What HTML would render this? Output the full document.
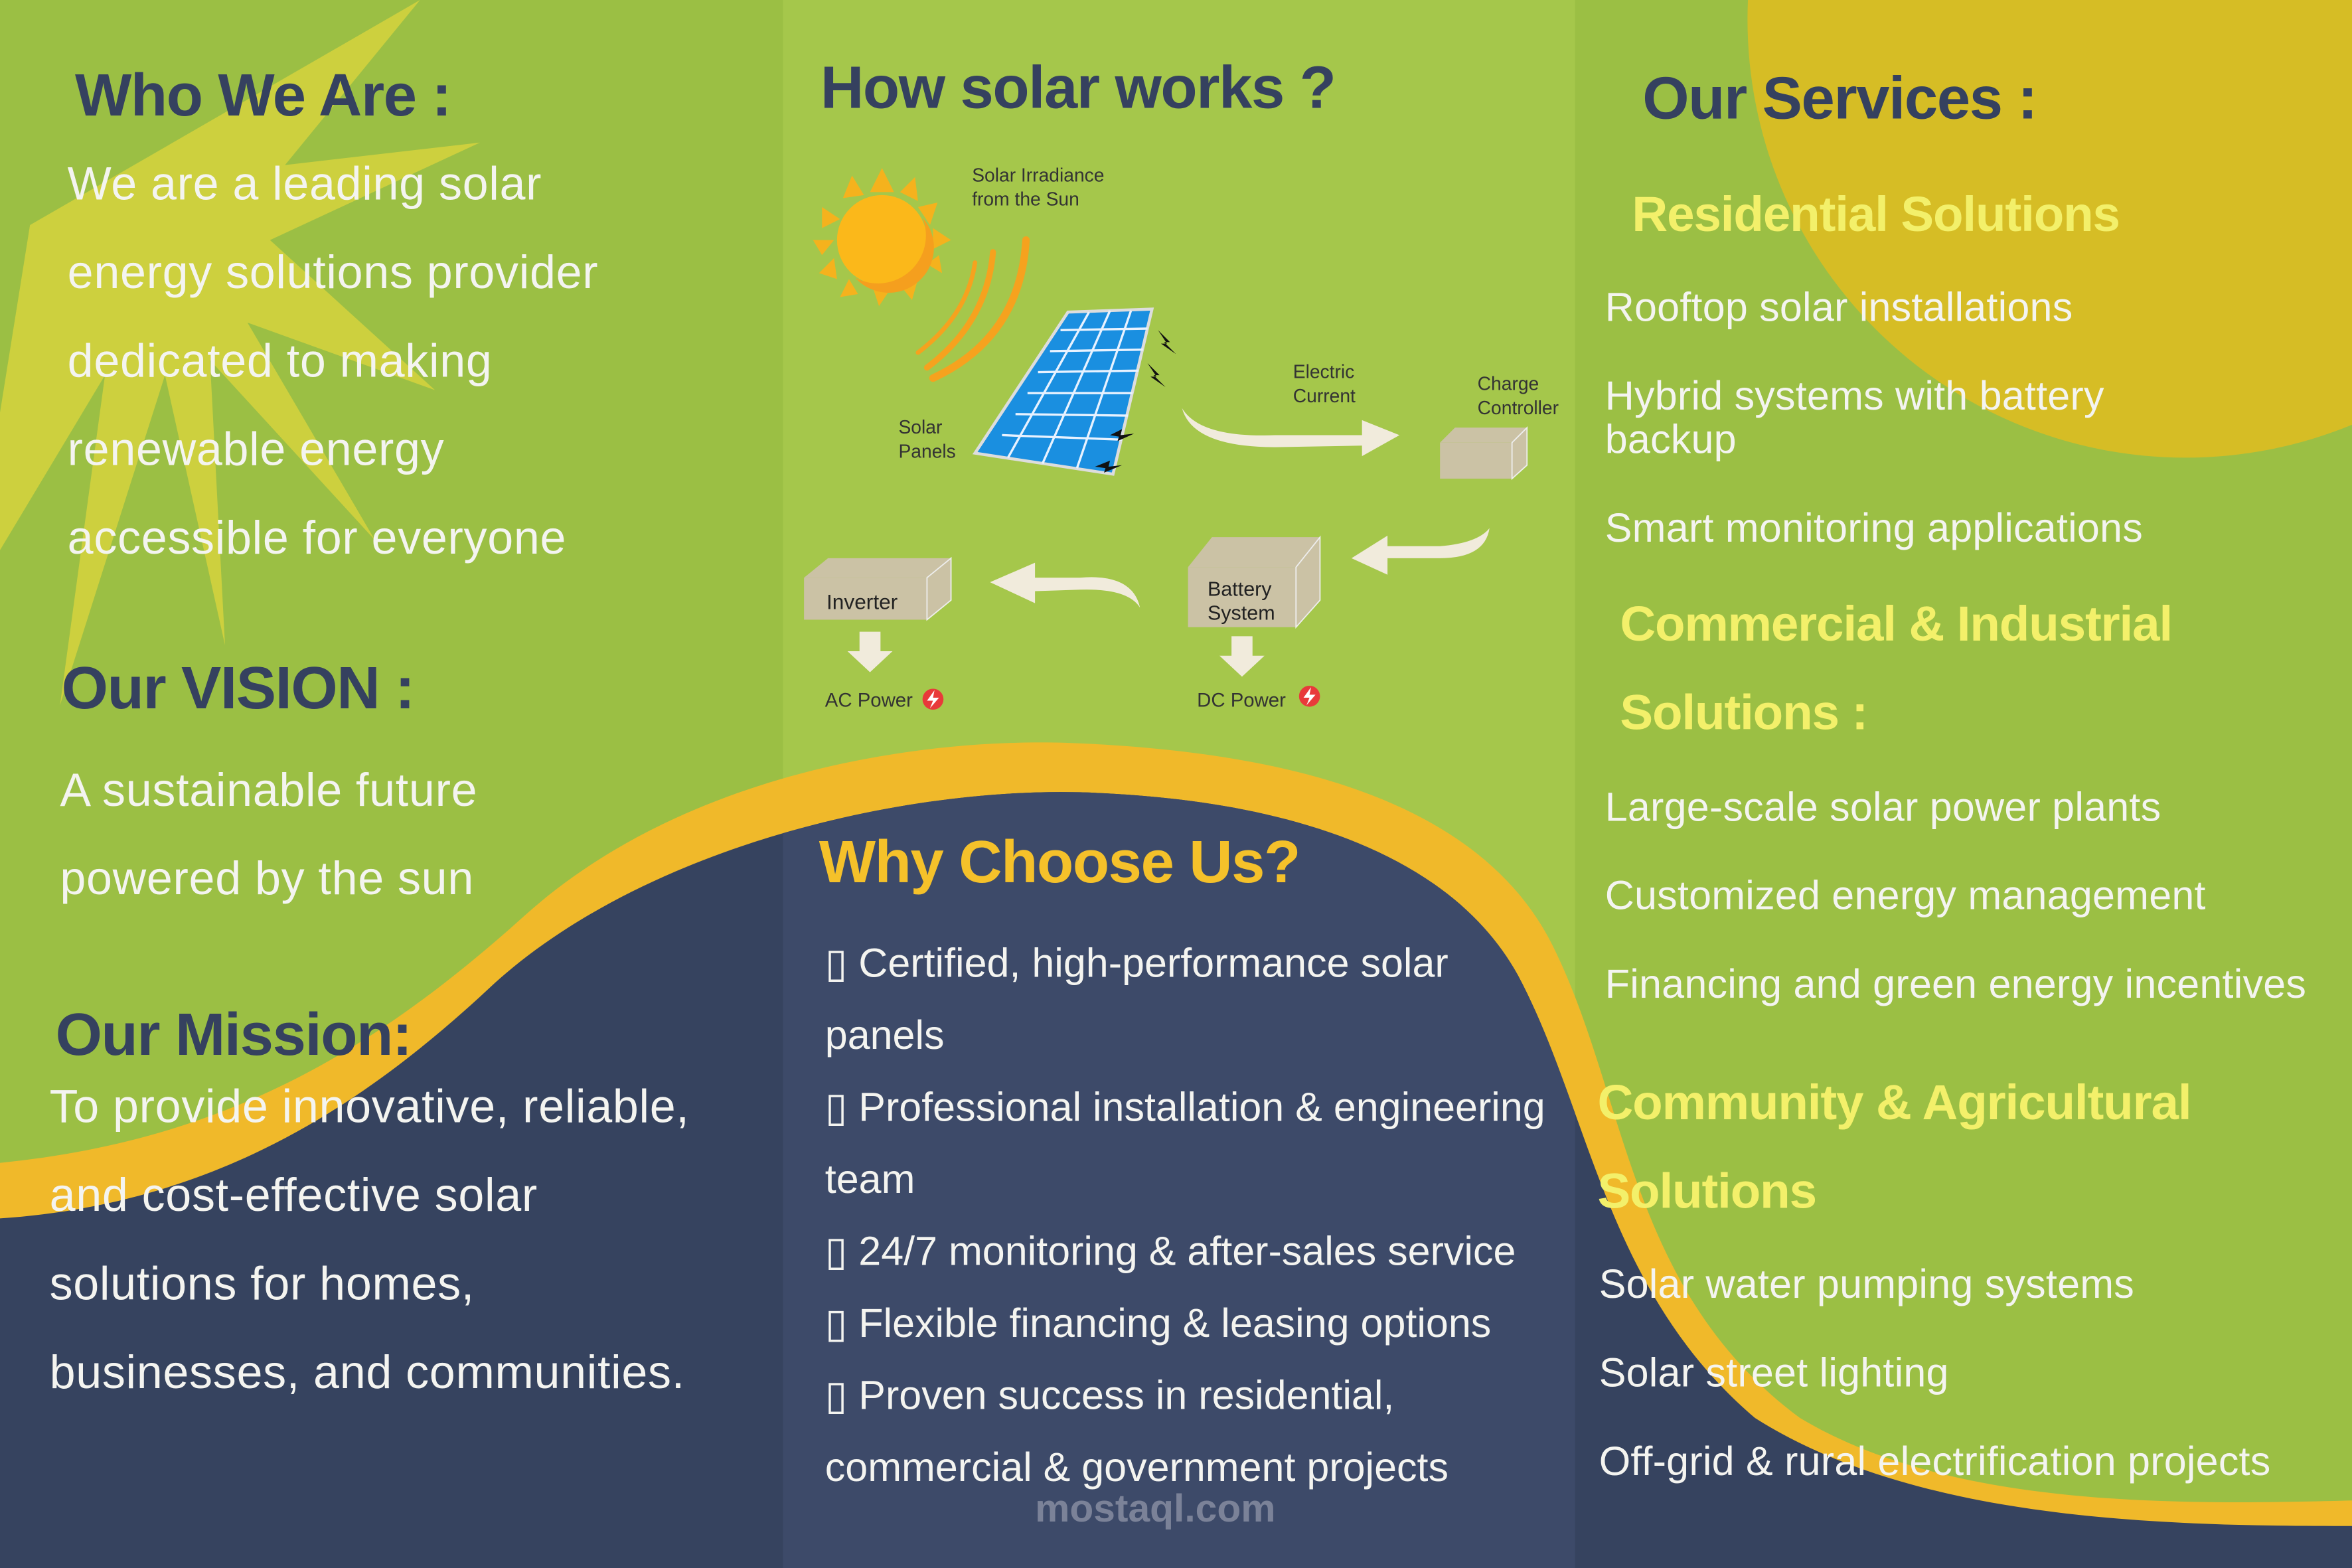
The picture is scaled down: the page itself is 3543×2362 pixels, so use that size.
<!DOCTYPE html>
<html><head><meta charset="utf-8"><style>
html,body{margin:0;padding:0;overflow:hidden;background:#9bbf44}
#w{position:absolute;left:0;top:0;width:1568px;height:1045px;transform-origin:0 0;transform:scale(2.25957,2.26029);overflow:hidden;font-family:"Liberation Sans",sans-serif}
.t{position:absolute;white-space:nowrap}
.h{color:#35415f;font-weight:bold;font-size:40px;letter-spacing:-0.6px}
.b{color:#f4f4f0;font-size:31px;letter-spacing:0.3px}
.y{color:#f3f06a;font-weight:bold;font-size:33px;letter-spacing:-0.5px}
.r{color:#f4f4f0;font-size:27px;letter-spacing:0.1px}
.m{color:#f4f4f0;font-size:27px;letter-spacing:0px}
</style></head><body><div id="w">
<svg width="1568" height="1045" style="position:absolute;left:0;top:0">
<defs><clipPath id="nv"><path d="M0,812 C150,802 250,730 330,655 C430,565 600,525 720,528 C850,532 965,565 1012,650 C1060,740 1070,860 1170,945 C1280,1015 1450,1017 1568,1017 L1568,1045 L0,1045 Z"/></clipPath></defs>
<rect width="1568" height="1045" fill="#9bbf44"/>
<polygon fill="#cdd03e" points="20,150 280,0 190,110 320,95 180,160 290,260 165,215 250,360 140,240 150,430 110,250 40,470 70,250 -20,400"/>
<circle cx="1457" cy="13" r="292" fill="#d6bd25"/>
<rect x="522" y="0" width="528" height="1045" fill="#a6c84c" opacity="0.9"/>
<path d="M0,775 C150,760 250,700 350,610 C450,520 600,492 710,495 C850,500 985,530 1035,630 C1085,730 1085,860 1200,945 C1300,1005 1450,1003 1568,1000 L1568,1045 L0,1045 Z" fill="#f0b92a"/>
<path d="M0,812 C150,802 250,730 330,655 C430,565 600,525 720,528 C850,532 965,565 1012,650 C1060,740 1070,860 1170,945 C1280,1015 1450,1017 1568,1017 L1568,1045 L0,1045 Z" fill="#36435f"/>
<rect x="522" y="500" width="528" height="545" fill="#3d4a69" clip-path="url(#nv)"/>
<g>
<g fill="#f5b21d"><polygon points="588,112 596,128 580,128"/><polygon points="610,118 612,134 600,128"/><polygon points="625,135 620,150 612,138"/><polygon points="634,160 622,166 622,152"/><polygon points="628,182 618,176 626,170"/><polygon points="568,117 576,130 562,132"/><polygon points="548,138 560,146 548,152"/><polygon points="542,160 556,160 548,170"/><polygon points="546,182 556,172 558,186"/><polygon points="560,198 566,186 572,196"/><polygon points="586,204 582,192 594,192"/><polygon points="608,200 600,190 612,186"/></g>
<circle cx="588" cy="160" r="30" fill="#fbb81a"/>
<path d="M615,145 A30,30 0 0 1 570,185 A32,32 0 0 0 615,145Z" fill="#f59f1e"/>
<g fill="none" stroke="#f6a21e" stroke-linecap="round"><path d="M650,175 Q645,210 612,235" stroke-width="3"/><path d="M662,168 Q658,215 618,245" stroke-width="4"/><path d="M684,160 Q680,225 622,252" stroke-width="5"/></g>
<polygon points="712,208 768,206 742,316 650,302" fill="#1a8fe0" stroke="#ddd" stroke-width="2"/>
<g stroke="#e8f2ff" stroke-width="1.5"><line x1="726" y1="208" x2="672" y2="305"/><line x1="740" y1="207" x2="695" y2="309"/><line x1="754" y1="207" x2="718" y2="312"/><line x1="707" y1="220" x2="765" y2="219"/><line x1="700" y1="234" x2="762" y2="233"/><line x1="692" y1="248" x2="759" y2="247"/><line x1="685" y1="262" x2="755" y2="262"/><line x1="677" y1="276" x2="752" y2="277"/><line x1="668" y1="290" x2="748" y2="293"/></g>
<g fill="#111"><polygon points="772,220 780,228 776,228 784,236 774,229 778,229"/><polygon points="765,242 773,250 769,250 777,258 767,251 771,251"/><polygon points="740,290 748,286 747,290 756,289 745,294 746,291"/><polygon points="730,311 740,307 739,311 748,310 736,315 737,312"/></g>
<path d="M788,272 Q800,292 850,290 L908,290 L908,280 L933,290 L908,304 L908,297 L850,298 Q795,298 788,272Z" fill="#f1ebdc"/>
<polygon points="960,295 970,285 1018,285 1008,295" fill="#cbc2a5"/><rect x="960" y="295" width="48" height="24" fill="#cbc2a5"/><polygon points="1008,295 1018,285 1018,310 1008,319" fill="#cbc2a5" stroke="#eee" stroke-width="0.8"/>
<path d="M993,352 Q990,372 960,372 L925,372 L925,383 L901,372 L925,357 L925,364 L960,364 Q985,362 993,352Z" fill="#f1ebdc"/>
<polygon points="792,378 808,358 880,358 864,378" fill="#cbc2a5"/><rect x="792" y="378" width="72" height="40" fill="#cbc2a5"/><polygon points="864,378 880,358 880,400 864,418" fill="#cbc2a5" stroke="#eee" stroke-width="0.8"/>
<path d="M760,405 Q755,382 720,385 L690,385 L690,375 L660,388 L690,402 L690,394 L720,393 Q752,392 760,405Z" fill="#f1ebdc"/>
<polygon points="536,385 552,372 634,372 618,385" fill="#cbc2a5"/><rect x="536" y="385" width="82" height="28" fill="#cbc2a5"/><polygon points="618,385 634,372 634,400 618,413" fill="#cbc2a5" stroke="#eee" stroke-width="0.8"/>
<polygon points="573,421 587,421 587,434 595,434 580,448 565,434 573,434" fill="#f1ebdc"/>
<polygon points="821,424 835,424 835,437 843,437 828,451 813,437 821,437" fill="#f1ebdc"/>
<circle cx="622" cy="466" r="7" fill="#e83a3a"/><circle cx="873" cy="464" r="7" fill="#e83a3a"/>
<g fill="#fff"><polygon points="623,460 618,467 622,467 620,472 626,465 622,465"/><polygon points="874,458 869,465 873,465 871,470 877,463 873,463"/></g>
<g font-size="13" fill="#333"><text x="550" y="471">AC Power</text><text x="798" y="471">DC Power</text><text x="551" y="406" fill="#222" font-size="14">Inverter</text><text x="805" y="397" font-size="13.5" fill="#222">Battery</text><text x="805" y="413" font-size="13.5" fill="#222">System</text></g>
<g font-size="12.5" fill="#333"><text x="648" y="121">Solar Irradiance</text><text x="648" y="137">from the Sun</text><text x="599" y="289">Solar</text><text x="599" y="305">Panels</text><text x="862" y="252">Electric</text><text x="862" y="268">Current</text><text x="985" y="260">Charge</text><text x="985" y="276">Controller</text></g>
</g>
</svg>
<div class="t h" style="left:50px;top:42px">Who We Are :</div>
<div class="t b" style="left:45px;top:105px">We are a leading solar</div>
<div class="t b" style="left:45px;top:164px">energy solutions provider</div>
<div class="t b" style="left:45px;top:223px">dedicated to making</div>
<div class="t b" style="left:45px;top:282px">renewable energy</div>
<div class="t b" style="left:45px;top:341px">accessible for everyone</div>
<div class="t h" style="left:41px;top:437px">Our VISION :</div>
<div class="t b" style="left:40px;top:509px">A sustainable future</div>
<div class="t b" style="left:40px;top:568px">powered by the sun</div>
<div class="t h" style="left:37px;top:668px">Our Mission:</div>
<div class="t b" style="left:33px;top:720px">To provide innovative, reliable,</div>
<div class="t b" style="left:33px;top:779px">and cost-effective solar</div>
<div class="t b" style="left:33px;top:838px">solutions for homes,</div>
<div class="t b" style="left:33px;top:897px">businesses, and communities.</div>
<div class="t h" style="left:547px;top:37px">How solar works ?</div>
<div class="t h" style="left:546px;top:553px;color:#f5c12a">Why Choose Us?</div>
<div class="t m" style="left:550px;top:627px">▯ Certified, high-performance solar</div>
<div class="t m" style="left:550px;top:675px">panels</div>
<div class="t m" style="left:550px;top:723px">▯ Professional installation &amp; engineering</div>
<div class="t m" style="left:550px;top:771px">team</div>
<div class="t m" style="left:550px;top:819px">▯ 24/7 monitoring &amp; after-sales service</div>
<div class="t m" style="left:550px;top:867px">▯ Flexible financing &amp; leasing options</div>
<div class="t m" style="left:550px;top:915px">▯ Proven success in residential,</div>
<div class="t m" style="left:550px;top:963px">commercial &amp; government projects</div>
<div class="t" style="left:690px;top:990px;font-size:26px;font-weight:bold;color:rgba(200,200,210,0.45)">mostaql.com</div>
<div class="t h" style="left:1095px;top:44px">Our Services :</div>
<div class="t y" style="left:1088px;top:124px">Residential Solutions</div>
<div class="t r" style="left:1070px;top:190px">Rooftop solar installations</div>
<div class="t r" style="left:1070px;top:249px">Hybrid systems with battery</div>
<div class="t r" style="left:1070px;top:278px">backup</div>
<div class="t r" style="left:1070px;top:337px">Smart monitoring applications</div>
<div class="t y" style="left:1080px;top:397px">Commercial &amp; Industrial</div>
<div class="t y" style="left:1080px;top:456px">Solutions :</div>
<div class="t r" style="left:1070px;top:523px">Large-scale solar power plants</div>
<div class="t r" style="left:1070px;top:582px">Customized energy management</div>
<div class="t r" style="left:1070px;top:641px">Financing and green energy incentives</div>
<div class="t y" style="left:1065px;top:716px">Community &amp; Agricultural</div>
<div class="t y" style="left:1065px;top:775px">Solutions</div>
<div class="t r" style="left:1066px;top:841px">Solar water pumping systems</div>
<div class="t r" style="left:1066px;top:900px">Solar street lighting</div>
<div class="t r" style="left:1066px;top:959px">Off-grid &amp; rural electrification projects</div>
</div></body></html>
